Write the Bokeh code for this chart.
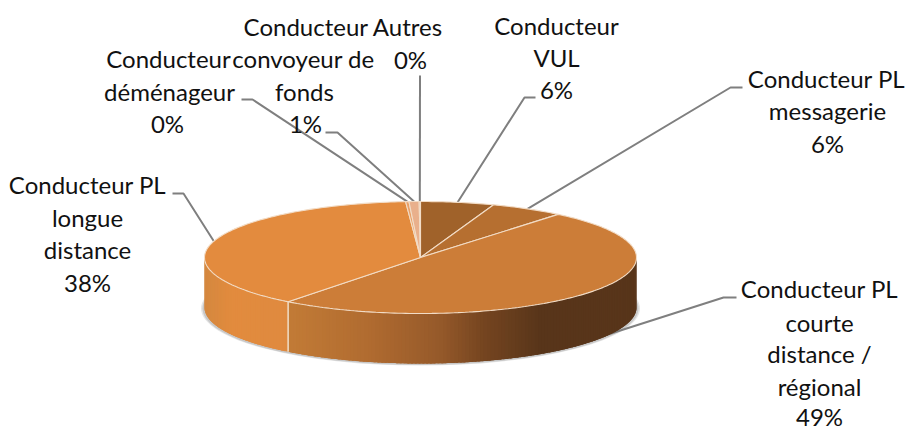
import numpy as np
from bokeh.plotting import figure
from bokeh.models import ColumnDataSource
from bokeh.core.properties import value
from bokeh.embed import file_html
from bokeh.resources import INLINE

# ---- data (clockwise from 12 o'clock) ----
categories = ["Conducteur VUL", "Conducteur PL messagerie",
              "Conducteur PL courte distance / régional",
              "Conducteur PL longue distance",
              "Conducteur déménageur", "Conducteur convoyeur de fonds",
              "Conducteur Autres"]
shares = [5.5, 5.5, 49.5, 38.4, 0.25, 0.75, 0.1]
top_colors = ["#A0622A", "#B66F30", "#CC7D38", "#E38B3E", "#E9A068", "#E9B08C", "#EDB99C"]

# ---- layout (picture pixels) ----
CX, CY, RX, RY, DEPTH = 420.0, 257.0, 216.0, 56.0, 50.0
FS = "24px"
TEXT_SHIFT = -9

# label lines: text, centre x, baseline y
lines_text = ["Conducteur Autres", "0%",
              "Conducteur", "déménageur", "0%",
              "convoyeur de", "fonds", "1%",
              "Conducteur", "VUL", "6%",
              "Conducteur PL", "messagerie", "6%",
              "Conducteur PL", "courte", "distance /", "régional", "49%",
              "Conducteur PL", "longue", "distance", "38%"]
lines_x = [343, 410, 168, 169, 167, 303, 304, 305, 556, 556, 556,
           826, 827, 827, 819, 819, 819, 819, 819, 87, 87, 87, 87]
lines_y = [35, 68, 67, 100, 132, 67, 100, 132, 34, 66, 98,
           87, 119, 152, 297, 331, 362, 395, 425, 193, 226, 258, 291]

# leader elbows: per category, the elbow points going from the label toward the pie
leaders = [
    [(535, 97), (524, 97)],
    [(742, 87), (730, 87)],
    [(736, 297), (723, 297)],
    [(172, 193), (183, 193)],
    [(241, 99), (252, 99)],
    [(325, 132), (337, 132)],
    [(419.5, 75)],
]
leader_on_side = [False, False, True, False, False, False, False]

# side-wall gradient stops: (x, colour)
side_court = [(288, "#C27B36"), (370, "#B06B30"), (440, "#95592A"),
              (483, "#754520"), (540, "#58351A"), (640, "#58351A")]
side_longue = [(204, "#D4883F"), (232, "#E28B3E"), (290, "#DF8A3F")]


def hex2rgb(h):
    return np.array([int(h[i:i + 2], 16) for i in (1, 3, 5)], float)


def grad(stops, x):
    xs = [s[0] for s in stops]
    cs = np.array([hex2rgb(s[1]) for s in stops])
    c = [np.interp(x, xs, cs[:, i]) for i in range(3)]
    return "#%02x%02x%02x" % tuple(int(round(v)) for v in c)


def pt(theta_deg):
    t = np.radians(theta_deg)
    return CX + RX * np.sin(t), CY - RY * np.cos(t)


cum = np.concatenate([[0], np.cumsum(shares)]) / np.sum(shares) * 360.0

p = figure(width=907, height=431, x_range=(0, 907), y_range=(431, 0),
           toolbar_location=None, output_backend="svg", min_border=0,
           outline_line_color=None, background_fill_color="white",
           border_fill_color=None, x_axis_location=None, y_axis_location=None)
p.grid.visible = False

# shadow
p.ellipse(x=[CX], y=[CY + DEPTH + 1], width=[2 * RX + 7], height=[2 * RY + 2],
          fill_color="#E6E6E6", line_color=None)
p.ellipse(x=[CX], y=[CY + DEPTH + 1], width=[2 * RX + 4], height=[2 * RY + 1],
          fill_color="#C8C8C8", line_color=None)

# leaders
lx, ly = [], []
for i, elbows in enumerate(leaders):
    a = pt((cum[i] + cum[i + 1]) / 2)
    ax, ay = a[0], a[1] + (DEPTH - 2 if leader_on_side[i] else 0)
    lx.append([e[0] for e in elbows] + [ax])
    ly.append([e[1] for e in elbows] + [ay])
p.multi_line(lx, ly, line_color="#7F7F7F", line_width=2)

# side wall: overlapping strips, painted in order, so no seams show
court_end = cum[3]
xs, ys, cols = [], [], []
for start, end, stops in ((90.0, court_end, side_court), (court_end, 270.0, side_longue)):
    ths = np.arange(start, end, 1.0)
    for a in ths:
        lo, mid, hi = a, min(a + 1.0, end), min(a + 2.5, end)
        ang = np.linspace(lo, hi, 4)
        x0, y0 = pt(ang)
        xs.append(list(x0) + list(x0[::-1]))
        ys.append(list(y0) + list((y0 + DEPTH)[::-1]))
        cols.append(grad(stops, pt((lo + mid) / 2)[0]))
src = ColumnDataSource(dict(xs=xs, ys=ys, c=cols))
p.patches("xs", "ys", fill_color="c", line_color=None, source=src)

# seam on the side wall between the two large slices
sx, sy = pt(court_end)
p.line([sx, sx], [sy, sy + DEPTH], line_color="#F6EBDD", line_width=1.3)

# top surface
txs, tys = [], []
for i in range(len(shares)):
    th = np.linspace(cum[i], cum[i + 1], max(3, int(cum[i + 1] - cum[i]) + 2))
    px, py = pt(th)
    txs.append([CX] + list(px))
    tys.append([CY] + list(py))
p.patches(txs, tys, fill_color=top_colors, line_color="#F2DCC6", line_width=1.1)

# labels
p.text(lines_x, lines_y, text=lines_text, text_font=value("Lato"), text_font_size=FS,
       text_align="center", text_baseline="alphabetic", text_color="#111111",
       y_offset=TEXT_SHIFT)

open("out.html", "w").write(file_html(p, INLINE))
